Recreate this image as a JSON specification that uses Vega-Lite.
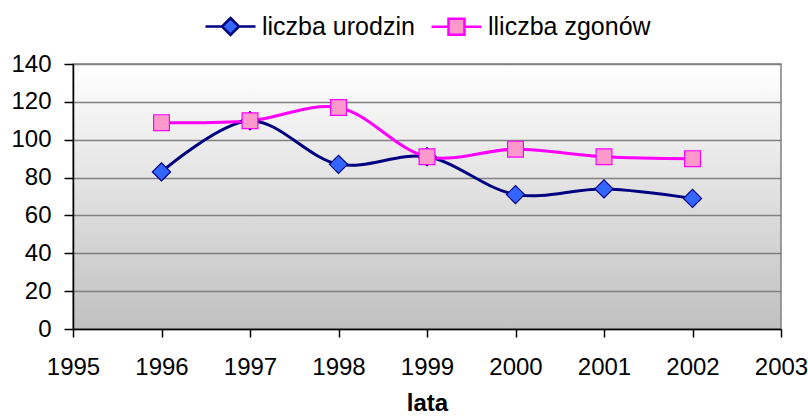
{
  "$schema": "https://vega.github.io/schema/vega-lite/v6.json",
  "autosize": {"type": "none"},
  "padding": {"left": 73, "top": 64, "right": 27, "bottom": 91},
  "width": 708,
  "height": 265,
  "background": "white",
  "config": {
    "font": "Liberation Sans",
    "view": {
      "stroke": "#808080",
      "strokeWidth": 1.5,
      "fill": {"gradient": "linear", "x1": 0, "y1": 0, "x2": 0, "y2": 1, "stops": [{"offset": 0, "color": "#ffffff"}, {"offset": 1, "color": "#c0c0c0"}]}
    }
  },
  "data": {
    "values": [
      {"rok": 1996, "seria": "liczba urodzin", "wartosc": 83},
      {"rok": 1997, "seria": "liczba urodzin", "wartosc": 110},
      {"rok": 1998, "seria": "liczba urodzin", "wartosc": 87},
      {"rok": 1999, "seria": "liczba urodzin", "wartosc": 91},
      {"rok": 2000, "seria": "liczba urodzin", "wartosc": 71},
      {"rok": 2001, "seria": "liczba urodzin", "wartosc": 74},
      {"rok": 2002, "seria": "liczba urodzin", "wartosc": 69},
      {"rok": 1996, "seria": "lliczba zgonów", "wartosc": 109},
      {"rok": 1997, "seria": "lliczba zgonów", "wartosc": 110},
      {"rok": 1998, "seria": "lliczba zgonów", "wartosc": 117},
      {"rok": 1999, "seria": "lliczba zgonów", "wartosc": 91},
      {"rok": 2000, "seria": "lliczba zgonów", "wartosc": 95},
      {"rok": 2001, "seria": "lliczba zgonów", "wartosc": 91},
      {"rok": 2002, "seria": "lliczba zgonów", "wartosc": 90}
    ]
  },
  "encoding": {
    "x": {
      "field": "rok", "type": "quantitative",
      "scale": {"domain": [1995, 2003], "nice": false, "zero": false},
      "axis": {
        "title": "lata", "titleFontSize": 24, "titleFontWeight": "bold", "titleColor": "black", "titlePadding": 12,
        "values": [1995, 1996, 1997, 1998, 1999, 2000, 2001, 2002, 2003], "format": "d",
        "labelFontSize": 24, "labelColor": "black", "labelPadding": 18, "labelFlush": false, "labelOverlap": false,
        "tickSize": 8, "tickColor": "black", "tickWidth": 1.5, "domainColor": "black", "domainWidth": 1.5,
        "grid": false
      }
    },
    "y": {
      "field": "wartosc", "type": "quantitative",
      "scale": {"domain": [0, 140], "nice": false},
      "axis": {
        "title": null, "values": [0, 20, 40, 60, 80, 100, 120, 140],
        "labelFontSize": 24, "labelColor": "black", "labelPadding": 13,
        "tickSize": 9, "tickColor": "black", "tickWidth": 1.5, "domainColor": "black", "domainWidth": 1.5,
        "grid": true, "gridColor": "#808080", "gridWidth": 1.5
      }
    },
    "color": {
      "field": "seria", "type": "nominal",
      "scale": {"domain": ["liczba urodzin", "lliczba zgonów"], "range": ["#000080", "#ff00ff"]},
      "legend": {
        "title": null, "orient": "none", "legendX": 131, "legendY": -64, "direction": "horizontal", "columns": 2,
        "columnPadding": 11, "labelFontSize": 25, "labelColor": "black", "labelOffset": 5, "labelLimit": 400,
        "symbolSize": 2500, "symbolStrokeWidth": 2.5, "symbolType": "M-1,0H1",
        "encode": {
          "symbols": {
            "update": {
              "shape": {"signal": "datum.value === 'liczba urodzin' ? 'M-1,0H-0.34M0.34,0H1M0,-0.34L0.34,0L0,0.34L-0.34,0Z' : 'M-1,0H-0.32M0.32,0H1M-0.32,-0.32H0.32V0.32H-0.32Z'"},
              "fill": {"signal": "datum.value === 'liczba urodzin' ? '#3366ff' : '#ff99cc'"},
              "strokeWidth": {"value": 2.5}
            }
          }
        }
      }
    }
  },
  "layer": [
    {
      "mark": {"type": "line", "strokeWidth": 3, "interpolate": "catmull-rom"}
    },
    {
      "mark": {"type": "point", "filled": false, "opacity": 1, "strokeWidth": 1.2},
      "encoding": {
        "shape": {"condition": {"test": "datum.seria === 'liczba urodzin'", "value": "diamond"}, "value": "square"},
        "fill": {"condition": {"test": "datum.seria === 'liczba urodzin'", "value": "#3366ff"}, "value": "#ff99cc"},
        "size": {"condition": {"test": "datum.seria === 'liczba urodzin'", "value": 330}, "value": 250}
      }
    }
  ]
}
